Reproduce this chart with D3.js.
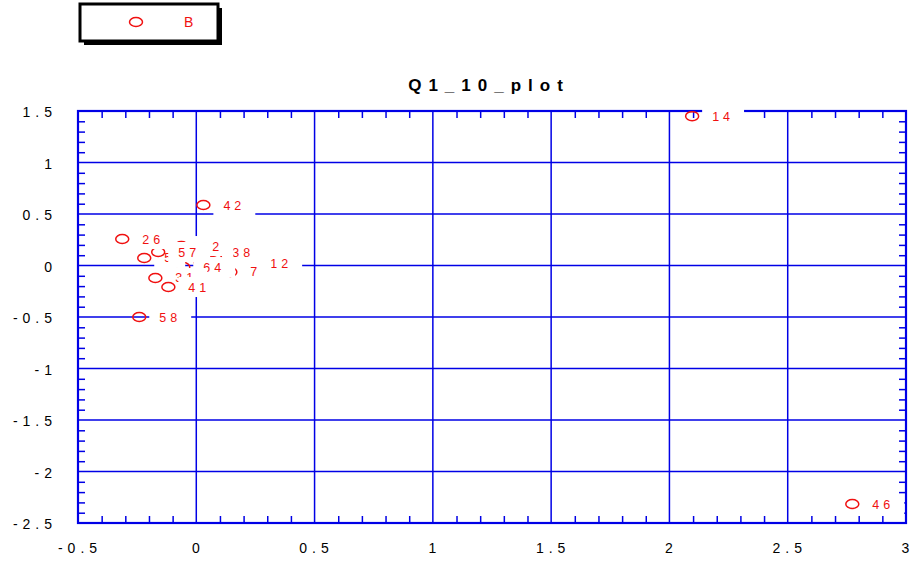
<!DOCTYPE html>
<html><head><meta charset="utf-8">
<script src="https://cdn.jsdelivr.net/npm/d3@7"></script>
<style>
html,body{margin:0;padding:0;background:#fff;}
svg{display:block;font-family:"Liberation Sans",Arial,sans-serif;}
</style></head>
<body><svg id="c" width="912" height="565"></svg>
<script>
// ---- data ----
const title = "Q1_10_plot";
const legendLabel = "B";
const xTicks = [-0.5, 0, 0.5, 1, 1.5, 2, 2.5, 3];
const yTicks = [1.5, 1, 0.5, 0, -0.5, -1, -1.5, -2, -2.5];
const xTickLabels = ["-0.5", "0", "0.5", "1", "1.5", "2", "2.5", "3"];
const yTickLabels = ["1.5", "1", "0.5", "0", "-0.5", "-1", "-1.5", "-2", "-2.5"];
// points in drawing order (later ones cover earlier ones)
const pointLabels = ["8", "33",
  "12", "7", "38", "52", "64", "5", "57", "31", "41",
  "26", "42", "58", "14", "46"];
const pointX = [0.017, 0.080,
  0.228, 0.144, 0.068, -0.063, -0.055, -0.220, -0.161, -0.173, -0.118,
  -0.313, 0.030, -0.241, 2.096, 2.773];
const pointY = [0.034, 0.073,
  0.015, -0.063, 0.131, 0.189, -0.015, 0.073, 0.131, -0.121, -0.209,
  0.257, 0.587, -0.500, 1.450, -2.316];

// ---- layout ----
const svg = d3.select("#c");
const L = 78, R = 906, T = 111, B = 523;
const x = d3.scaleLinear().domain([-0.5, 3]).range([L, R]);
const y = d3.scaleLinear().domain([-2.5, 1.5]).range([B, T]);
const blue = "#0000e6", red = "#f01010";

// legend
const lg = svg.append("g");
lg.append("rect").attr("x", 84).attr("y", 8).attr("width", 138).attr("height", 37).attr("fill", "#000");
lg.append("rect").attr("x", 80).attr("y", 4).attr("width", 138).attr("height", 37)
  .attr("fill", "#fff").attr("stroke", "#000").attr("stroke-width", 3);
lg.append("ellipse").attr("cx", 136).attr("cy", 22).attr("rx", 6.5).attr("ry", 4.5)
  .attr("fill", "none").attr("stroke", red).attr("stroke-width", 1.5);
lg.append("text").attr("x", 184).attr("y", 27).attr("fill", red).attr("font-size", 14).text(legendLabel);

// title
svg.append("text").attr("x", 489).attr("y", 91).attr("text-anchor", "middle")
  .attr("font-size", 17).attr("font-weight", "bold").attr("letter-spacing", "7px")
  .attr("fill", "#000").text(title);

// grid
const g = svg.append("g");
g.selectAll(".vg").data(xTicks.slice(1, -1)).join("line")
  .attr("x1", d => x(d)).attr("x2", d => x(d)).attr("y1", T).attr("y2", B)
  .attr("stroke", blue).attr("stroke-width", 1.5);
g.selectAll(".hg").data(yTicks.slice(1, -1)).join("line")
  .attr("y1", d => y(d)).attr("y2", d => y(d)).attr("x1", L).attr("x2", R)
  .attr("stroke", blue).attr("stroke-width", 1.5);

// minor ticks
const xMinor = d3.range(-5, 31).map(i => i / 10).filter(v => Math.abs(v * 2 - Math.round(v * 2)) > 1e-6);
const yMinor = d3.range(-25, 16).map(i => i / 10).filter(v => Math.abs(v * 2 - Math.round(v * 2)) > 1e-6);
const tl = 7;
const styleTicks = s => { s.select(".domain").remove(); s.selectAll("line").attr("stroke", blue).attr("stroke-width", 1.5); };
g.append("g").attr("transform", `translate(0,${B})`)
  .call(d3.axisBottom(x).tickValues(xMinor).tickSizeInner(-tl).tickSizeOuter(0).tickFormat("")).call(styleTicks);
g.append("g").attr("transform", `translate(0,${T})`)
  .call(d3.axisTop(x).tickValues(xMinor).tickSizeInner(-tl).tickSizeOuter(0).tickFormat("")).call(styleTicks);
g.append("g").attr("transform", `translate(${L},0)`)
  .call(d3.axisLeft(y).tickValues(yMinor).tickSizeInner(-tl).tickSizeOuter(0).tickFormat("")).call(styleTicks);
g.append("g").attr("transform", `translate(${R},0)`)
  .call(d3.axisRight(y).tickValues(yMinor).tickSizeInner(-tl).tickSizeOuter(0).tickFormat("")).call(styleTicks);

// frame
g.append("rect").attr("x", L).attr("y", T).attr("width", R - L).attr("height", B - T)
  .attr("fill", "none").attr("stroke", blue).attr("stroke-width", 2.2);

// tick labels
const ls = 5;
svg.append("g").attr("transform", `translate(0,${B})`)
  .call(d3.axisBottom(x).tickValues(xTicks).tickSize(0).tickPadding(0).tickFormat((d, i) => xTickLabels[i]))
  .call(s => {
    s.select(".domain").remove();
    s.selectAll("text").attr("font-size", 14).attr("font-family", "Liberation Sans, Arial, sans-serif")
      .attr("fill", "#000").attr("letter-spacing", ls + "px").attr("dy", null).attr("y", 30).attr("dx", ls / 2 - 1);
  });
svg.append("g").attr("transform", `translate(${L},0)`)
  .call(d3.axisLeft(y).tickValues(yTicks).tickSize(0).tickPadding(0).tickFormat((d, i) => yTickLabels[i]))
  .call(s => {
    s.select(".domain").remove();
    s.selectAll("text").attr("font-size", 14).attr("font-family", "Liberation Sans, Arial, sans-serif")
      .attr("fill", "#000").attr("letter-spacing", ls + "px").attr("x", -21).attr("dy", "0.42em");
  });

// points with labels on white boxes
const pts = svg.append("g");
pointLabels.forEach((lab, i) => {
  const cx = x(pointX[i]), cy = y(pointY[i]);
  pts.append("ellipse").attr("cx", cx).attr("cy", cy).attr("rx", 6.5).attr("ry", 4.5)
    .attr("fill", "none").attr("stroke", red).attr("stroke-width", 1.5);
  const t = pts.append("text").attr("x", cx + 20).attr("y", cy + 4.5).attr("fill", red)
    .attr("font-size", 12.5).attr("letter-spacing", "4px").text(lab);
  const w = t.node().getComputedTextLength();
  pts.insert("rect", () => t.node()).attr("x", cx + 10).attr("y", cy - 10)
    .attr("width", w + 20).attr("height", 20).attr("fill", "#fff");
});
</script></body></html>
